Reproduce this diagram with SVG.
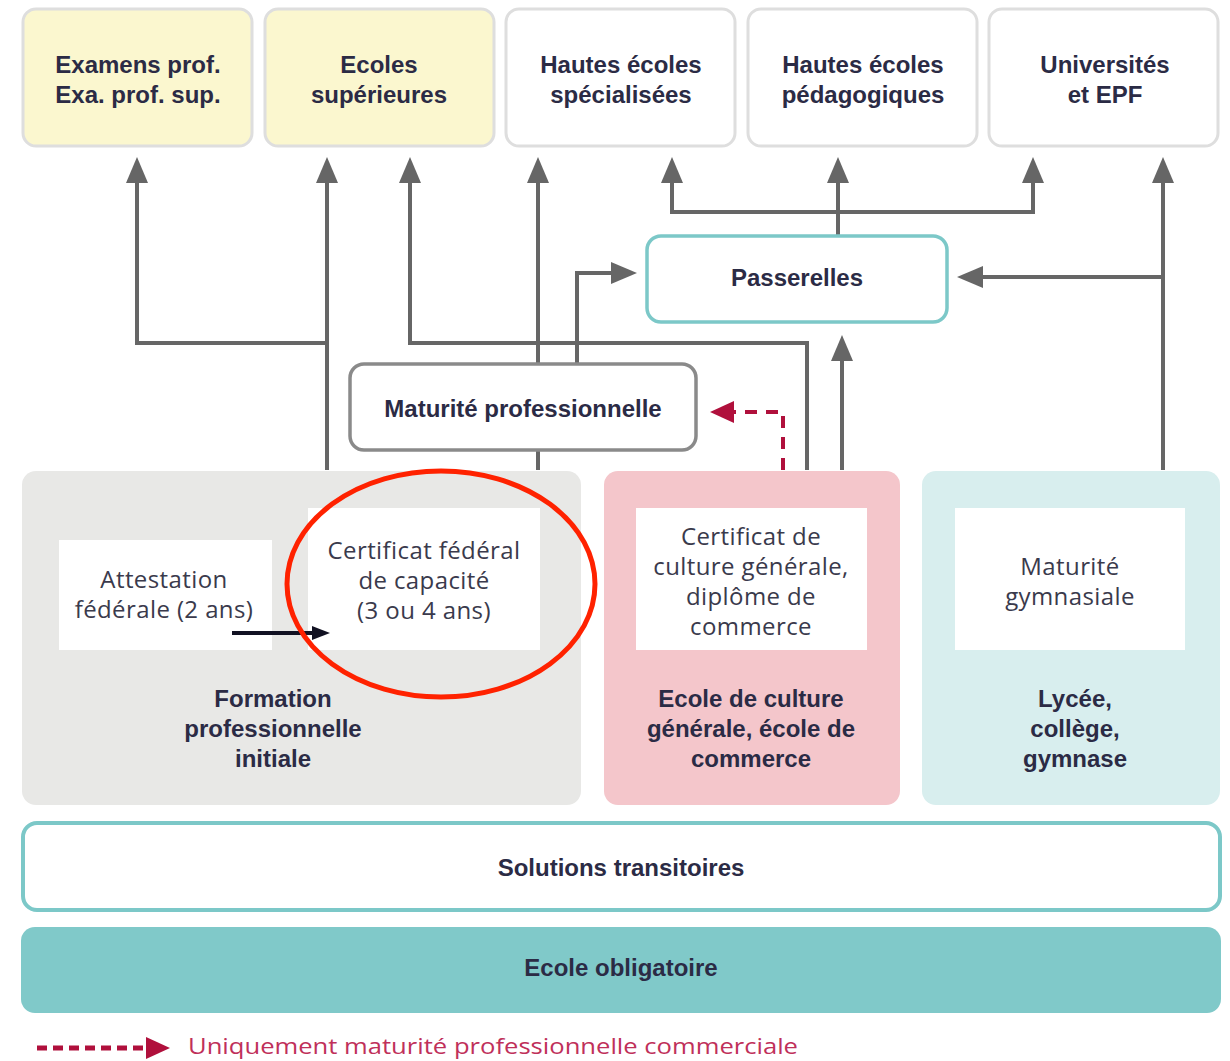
<svg xmlns="http://www.w3.org/2000/svg" width="1230" height="1061" viewBox="0 0 1230 1061">
<style>
.top{fill:#ffffff;stroke:#dedede;stroke-width:3}
.yel{fill:#fbf7cf}
.b{font-family:"Liberation Sans",Arial,sans-serif;font-weight:bold;font-size:24px;fill:#2b2b45;text-anchor:middle}
.n{font-family:"Open Sans","Liberation Sans",sans-serif;font-size:24px;letter-spacing:0.4px;fill:#3a3a4c;text-anchor:middle}
.ln{fill:none;stroke:#666666;stroke-width:4}
.inner{fill:#ffffff}
</style>
<defs>
<marker id="ah" markerUnits="userSpaceOnUse" markerWidth="26" markerHeight="22" refX="2" refY="11" orient="auto">
<path d="M0,0 L26,11 L0,22 z" fill="#666666"/>
</marker>
<marker id="ahr" markerUnits="userSpaceOnUse" markerWidth="24" markerHeight="22" refX="2" refY="11" orient="auto">
<path d="M0,0 L24,11 L0,22 z" fill="#b0103c"/>
</marker>
<marker id="ahb" markerUnits="userSpaceOnUse" markerWidth="18" markerHeight="14" refX="2" refY="7" orient="auto">
<path d="M0,0 L18,7 L0,14 z" fill="#111122"/>
</marker>
</defs>
<rect width="1230" height="1061" fill="#ffffff"/>

<g id="connectors">
<path class="ln" d="M327,470 V181" marker-end="url(#ah)"/>
<path class="ln" d="M327,343 H137 V181" marker-end="url(#ah)"/>
<path class="ln" d="M807,470 V343 H410 V181" marker-end="url(#ah)"/>
<path class="ln" d="M538,470 V440"/>
<path class="ln" d="M538,370 V181" marker-end="url(#ah)"/>
<path class="ln" d="M577,370 V273 H613" marker-end="url(#ah)"/>
<path class="ln" d="M842,470 V359" marker-end="url(#ah)"/>
<path class="ln" d="M838,236 V181" marker-end="url(#ah)"/>
<path class="ln" d="M838,212 H672 V181" marker-end="url(#ah)"/>
<path class="ln" d="M838,212 H1033 V181" marker-end="url(#ah)"/>
<path class="ln" d="M1163,470 V181" marker-end="url(#ah)"/>
<path class="ln" d="M1163,277 H981" marker-end="url(#ah)"/>
<path d="M783,470 V412 H732" fill="none" stroke="#b0103c" stroke-width="4" stroke-dasharray="12,9" marker-end="url(#ahr)"/>
</g>

<g id="examens"><rect class="top yel" x="23" y="9" width="229" height="137" rx="13"/>
<text class="b" x="138" y="73">Examens prof.</text><text class="b" x="138" y="103">Exa. prof. sup.</text></g>
<g id="ecoles-sup"><rect class="top yel" x="265" y="9" width="229" height="137" rx="13"/>
<text class="b" x="379" y="73">Ecoles</text><text class="b" x="379" y="103">supérieures</text></g>
<g id="hes"><rect class="top" x="506" y="9" width="229" height="137" rx="13"/>
<text class="b" x="621" y="73">Hautes écoles</text><text class="b" x="621" y="103">spécialisées</text></g>
<g id="hep"><rect class="top" x="748" y="9" width="229" height="137" rx="13"/>
<text class="b" x="863" y="73">Hautes écoles</text><text class="b" x="863" y="103">pédagogiques</text></g>
<g id="uni"><rect class="top" x="989" y="9" width="229" height="137" rx="13"/>
<text class="b" x="1105" y="73">Universités</text><text class="b" x="1105" y="103">et EPF</text></g>

<g id="passerelles"><rect x="647" y="236" width="300" height="86" rx="14" fill="#ffffff" stroke="#7cc8c8" stroke-width="3.5"/>
<text class="b" x="797" y="286">Passerelles</text></g>

<g id="maturite-pro"><rect x="350" y="364" width="346" height="86" rx="14" fill="#ffffff" stroke="#8a8a8a" stroke-width="3.5"/>
<text class="b" x="523" y="417">Maturité professionnelle</text></g>

<g id="formation-pro"><rect x="22" y="471" width="559" height="334" rx="14" fill="#e8e8e6"/>
<text class="b" x="273" y="707">Formation</text><text class="b" x="273" y="737">professionnelle</text><text class="b" x="273" y="767">initiale</text></g>
<g id="attestation"><rect class="inner" x="59" y="540" width="213" height="110"/>
<text class="n" x="164" y="588">Attestation</text><text class="n" x="164" y="618">fédérale (2 ans)</text></g>
<g id="cfc"><rect class="inner" x="308" y="508" width="232" height="142"/>
<text class="n" x="424" y="559">Certificat fédéral</text><text class="n" x="424" y="589">de capacité</text><text class="n" x="424" y="619">(3 ou 4 ans)</text></g>
<g id="arrow-black"><path d="M232,633 H314" stroke="#111122" stroke-width="4" fill="none" marker-end="url(#ahb)"/></g>

<g id="ecg"><rect x="604" y="471" width="296" height="334" rx="14" fill="#f4c6cb"/>
<text class="b" x="751" y="707">Ecole de culture</text><text class="b" x="751" y="737">générale, école de</text><text class="b" x="751" y="767">commerce</text></g>
<g id="ccg"><rect class="inner" x="636" y="508" width="231" height="142"/>
<text class="n" x="751" y="545">Certificat de</text><text class="n" x="751" y="575">culture générale,</text><text class="n" x="751" y="605">diplôme de</text><text class="n" x="751" y="635">commerce</text></g>

<g id="lycee"><rect x="922" y="471" width="298" height="334" rx="14" fill="#d8eeee"/>
<text class="b" x="1075" y="707">Lycée,</text><text class="b" x="1075" y="737">collège,</text><text class="b" x="1075" y="767">gymnase</text></g>
<g id="mat-gym"><rect class="inner" x="955" y="508" width="230" height="142"/>
<text class="n" x="1070" y="575">Maturité</text><text class="n" x="1070" y="605">gymnasiale</text></g>

<g id="solutions"><rect x="23" y="823" width="1197" height="87" rx="14" fill="#ffffff" stroke="#7cc8c8" stroke-width="4"/>
<text class="b" x="621" y="876">Solutions transitoires</text></g>
<g id="ecole-obl"><rect x="21" y="927" width="1200" height="86" rx="14" fill="#80c9c9"/>
<text class="b" x="621" y="976">Ecole obligatoire</text></g>

<g id="legend">
<path d="M37,1048 H148" fill="none" stroke="#b0103c" stroke-width="5" stroke-dasharray="10,6" marker-end="url(#ahr)"/>
<text x="188" y="1054" font-family="Open Sans, Liberation Sans, sans-serif" font-size="22.5" fill="#c0305a" textLength="610" lengthAdjust="spacingAndGlyphs">Uniquement maturité professionnelle commerciale</text>
</g>

<g id="highlight"><ellipse cx="441" cy="584" rx="154" ry="113" fill="none" stroke="#ff2200" stroke-width="5"/></g>
</svg>
